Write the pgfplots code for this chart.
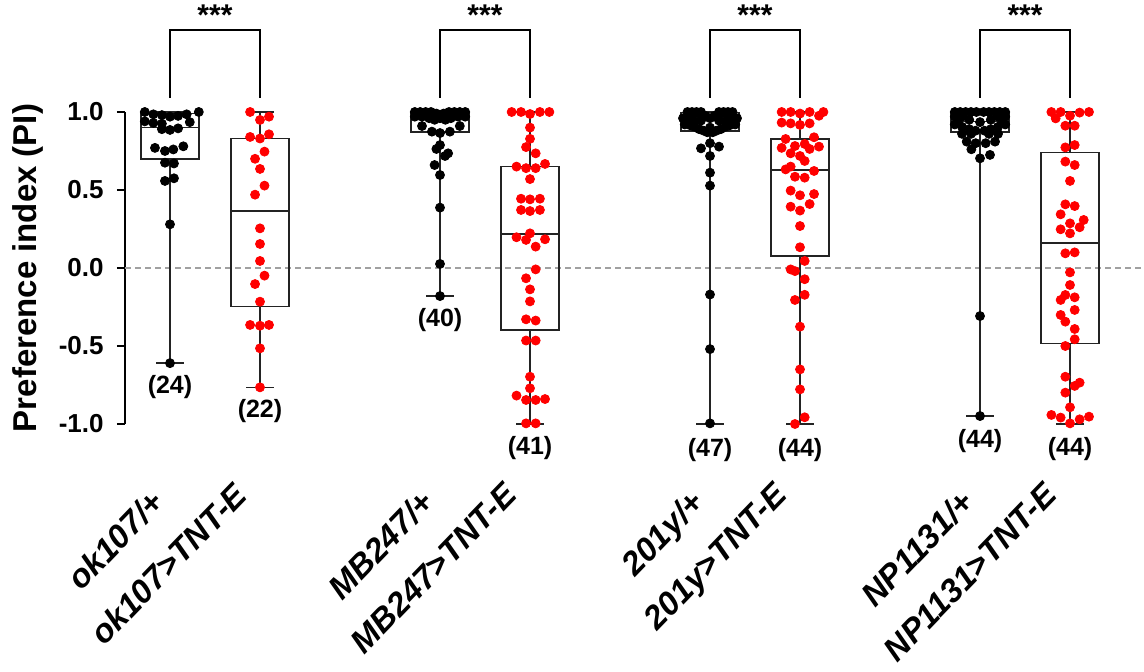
\documentclass[border=0pt]{standalone}
\usepackage{fontspec}
\setmainfont{Liberation Sans}
\usepackage{pgfplots}
\usepackage{pgfplotstable}
\pgfplotsset{compat=1.18}
\usepgfplotslibrary{statistics}
\definecolor{dotred}{RGB}{255,0,0}
\definecolor{boxgray}{RGB}{35,35,35}
\definecolor{zerogray}{RGB}{160,160,160}

% ok107/+ (pos 0)
\pgfplotstableread{
x y
-0.28 1.0
-0.185 0.985
-0.09 0.98
0 0.97
0.09 0.975
0.185 0.985
0.32 1.0
-0.28 0.94
-0.185 0.93
-0.09 0.925
0.22 0.935
-0.09 0.89
0 0.885
0.09 0.895
-0.167 0.77
-0.056 0.75
0.037 0.76
0.148 0.78
-0.056 0.675
0.044 0.67
-0.056 0.558
0.044 0.575
0 0.28
0 -0.61
}\gA
% ok107>TNT-E (pos 1)
\pgfplotstableread{
x y
0.89 1.0
1.0 0.949
1.10 0.97
0.89 0.84
1.0 0.83
1.10 0.857
1.05 0.746
0.945 0.70
1.0 0.635
1.05 0.528
0.945 0.47
1.0 0.254
1.0 0.154
1.0 0.045
1.05 -0.049
0.945 -0.103
1.0 -0.216
0.89 -0.365
1.0 -0.37
1.10 -0.365
1.0 -0.515
1.0 -0.765
}\gB
% MB247/+ (pos 3)
\pgfplotstableread{
x y
2.72 1.0
2.78 1.0
2.84 1.0
2.90 1.0
3.10 1.0
3.16 1.0
3.22 1.0
3.28 1.0
2.75 0.99
2.81 0.99
2.96 0.99
3.04 0.99
3.19 0.99
3.25 0.99
2.93 0.98
3.0 0.98
3.07 0.98
2.72 0.97
2.80 0.97
3.20 0.97
3.28 0.97
2.88 0.96
3.0 0.96
3.12 0.96
2.94 0.95
3.06 0.95
2.80 0.91
2.91 0.874
3.0 0.865
3.11 0.874
3.22 0.91
3.0 0.788
2.96 0.763
3.09 0.735
3.056 0.718
2.94 0.66
3.0 0.596
3.0 0.387
3.0 0.026
3.0 -0.18
}\gC
% MB247>TNT-E (pos 4)
\pgfplotstableread{
x y
3.796 1.0
3.90 1.0
4.0 0.987
4.11 1.0
4.215 1.0
4.0 0.90
4.0 0.828
3.956 0.775
4.063 0.735
3.85 0.65
3.956 0.64
4.063 0.64
4.167 0.667
4.0 0.57
3.90 0.444
4.0 0.44
4.11 0.444
3.90 0.372
4.0 0.365
4.11 0.372
3.85 0.197
4.0 0.222
3.956 0.18
4.063 0.137
4.167 0.184
4.063 -0.009
3.956 -0.066
4.0 -0.137
4.0 -0.214
3.956 -0.329
4.063 -0.337
3.956 -0.465
4.063 -0.465
4.0 -0.697
4.0 -0.771
3.85 -0.818
3.956 -0.846
4.063 -0.846
4.167 -0.84
3.956 -0.996
4.063 -0.996
}\gD
% 201y/+ (pos 6)
\pgfplotstableread{
x y
5.75 1.0
5.80 1.0
5.85 1.0
5.90 1.0
6.10 1.0
6.15 1.0
6.20 1.0
6.25 1.0
5.78 0.99
5.88 0.99
6.12 0.99
6.22 0.99
5.95 0.975
6.05 0.975
6.0 0.96
5.83 0.995
6.17 0.995
5.75 0.945
5.82 0.945
5.90 0.945
6.10 0.945
6.18 0.945
6.25 0.945
5.70 0.96
6.30 0.96
6.0 0.90
5.72 0.92
5.78 0.915
5.83 0.905
5.88 0.89
5.93 0.88
5.97 0.87
6.03 0.87
6.07 0.88
6.12 0.89
6.17 0.905
6.22 0.915
6.28 0.92
5.9 0.767
6.0 0.80
6.1 0.778
6.0 0.718
6.0 0.611
6.0 0.528
6.0 -0.17
6.0 -0.52
6.0 -0.996
}\gE
% 201y>TNT-E (pos 7)
\pgfplotstableread{
x y
6.796 1.0
6.896 1.0
7.0 0.99
7.107 1.0
7.211 0.976
7.26 1.0
6.796 0.932
6.896 0.927
7.0 0.917
7.107 0.927
6.84 0.827
7.156 0.838
6.796 0.77
6.944 0.782
7.052 0.795
7.107 0.763
7.211 0.778
6.896 0.735
7.0 0.718
7.052 0.686
6.84 0.632
6.896 0.65
7.156 0.622
6.944 0.585
7.052 0.579
6.896 0.496
7.0 0.466
7.156 0.474
6.896 0.393
7.0 0.368
7.107 0.41
7.0 0.269
7.0 0.133
7.052 0.045
6.896 -0.009
6.944 -0.02
7.052 -0.072
7.052 -0.172
6.944 -0.205
7.0 -0.376
7.0 -0.65
7.0 -0.778
7.052 -0.957
6.944 -1.0
}\gF
% NP1131/+ (pos 9)
\pgfplotstableread{
x y
8.72 1.0
8.78 1.0
8.84 1.0
8.90 1.0
8.96 1.0
9.04 1.0
9.10 1.0
9.16 1.0
9.22 1.0
9.28 1.0
8.75 0.985
8.81 0.985
9.19 0.985
9.25 0.985
8.72 0.97
8.80 0.97
9.20 0.97
9.28 0.97
8.88 0.95
9.12 0.95
9.0 0.935
8.75 0.94
9.25 0.94
8.72 0.92
9.28 0.92
8.80 0.905
9.20 0.905
8.88 0.89
9.12 0.89
8.95 0.88
9.05 0.88
8.80 0.86
8.90 0.86
9.10 0.86
9.20 0.86
8.852 0.81
8.952 0.80
9.063 0.80
9.167 0.81
8.904 0.761
9.111 0.725
9.0 0.703
9.0 -0.308
9.0 -0.949
}\gG
% NP1131>TNT-E (pos 10)
\pgfplotstableread{
x y
9.793 1.0
9.896 1.0
10.0 0.976
10.107 0.996
10.211 1.0
9.841 0.959
9.948 0.912
10.052 0.912
9.948 0.773
10.052 0.788
9.948 0.682
10.052 0.66
10.0 0.558
9.948 0.408
10.052 0.397
9.896 0.344
10.0 0.286
10.152 0.308
10.107 0.261
9.896 0.248
10.0 0.222
9.948 0.094
10.052 0.10
10.0 -0.028
10.0 -0.109
9.948 -0.173
10.052 -0.188
9.896 -0.205
10.052 -0.269
9.896 -0.301
9.948 -0.344
10.052 -0.391
10.052 -0.457
9.948 -0.5
9.948 -0.697
10.052 -0.756
10.107 -0.735
9.948 -0.799
10.0 -0.893
9.793 -0.942
9.896 -0.959
10.0 -0.996
10.107 -0.97
10.211 -0.953
}\gH

\newcommand{\low}[1]{\raisebox{5pt}[\height][\depth]{#1}\hspace{13pt}}

\begin{document}
\begin{tikzpicture}
\begin{axis}[
  at={(0,0)}, anchor=south west,
  scale only axis, width=495pt, height=156pt,
  xmin=-0.5, xmax=10.5, ymin=-1, ymax=1,
  clip=false,
  axis y line*=left, axis x line*=bottom,
  x axis line style={draw=none},
  y axis line style={line width=1.25pt, black},
  xtick={0,1,3,4,6,7,9,10},
  xticklabels={ok107/+, {\low{ok107>TNT-E}}, MB247/+, {\low{MB247>TNT-E}}, 201y/+, {\low{201y>TNT-E}}, NP1131/+, {\low{NP1131>TNT-E}}},
  major x tick style={draw=none},
  ytick={-1,-0.5,0,0.5,1},
  yticklabels={-1.0,-0.5,0.0,0.5,1.0},
  major y tick style={line width=1.25pt, black},
  major tick length=4pt, tick align=outside,
  yticklabel style={font=\fontsize{13}{15}\selectfont\bfseries, anchor=east, inner sep=0pt, xshift=-6.5pt},
  xticklabel style={font=\fontsize{16.5}{19}\selectfont\bfseries\itshape, inner sep=0pt, xshift=-10.5pt, yshift=-27.5pt, rotate=46, anchor=north east},
  ylabel={Preference index (PI)},
  ylabel style={font=\fontsize{16.5}{19}\selectfont\bfseries, at={(axis description cs:-0.098,0.5)}, anchor=center, rotate=0},
  boxplot/draw direction=y,
  mark size=2.25pt,
]
\addplot[zerogray, line width=0.6pt, dash pattern=on 3pt off 2pt] coordinates {(-0.5,0) (10.85,0)};

\addplot[boxplot prepared={draw position=0, lower whisker=-0.61, lower quartile=0.70, median=0.90, upper quartile=0.99, upper whisker=1.0, box extend=0.65, whisker extend=0.31}, draw=boxgray, line width=0.8pt, solid] coordinates {};
\addplot[boxplot prepared={draw position=1, lower whisker=-0.765, lower quartile=-0.248, median=0.365, upper quartile=0.83, upper whisker=1.0, box extend=0.65, whisker extend=0.31}, draw=boxgray, line width=0.8pt, solid] coordinates {};
\addplot[boxplot prepared={draw position=3, lower whisker=-0.18, lower quartile=0.87, median=0.96, upper quartile=0.99, upper whisker=1.0, box extend=0.65, whisker extend=0.31}, draw=boxgray, line width=0.8pt, solid] coordinates {};
\addplot[boxplot prepared={draw position=4, lower whisker=-1.0, lower quartile=-0.397, median=0.218, upper quartile=0.65, upper whisker=1.0, box extend=0.65, whisker extend=0.31}, draw=boxgray, line width=0.8pt, solid] coordinates {};
\addplot[boxplot prepared={draw position=6, lower whisker=-1.0, lower quartile=0.878, median=0.95, upper quartile=0.996, upper whisker=1.0, box extend=0.65, whisker extend=0.31}, draw=boxgray, line width=0.8pt, solid] coordinates {};
\addplot[boxplot prepared={draw position=7, lower whisker=-1.0, lower quartile=0.077, median=0.628, upper quartile=0.827, upper whisker=1.0, box extend=0.65, whisker extend=0.31}, draw=boxgray, line width=0.8pt, solid] coordinates {};
\addplot[boxplot prepared={draw position=9, lower whisker=-0.95, lower quartile=0.87, median=0.94, upper quartile=0.995, upper whisker=1.0, box extend=0.65, whisker extend=0.31}, draw=boxgray, line width=0.8pt, solid] coordinates {};
\addplot[boxplot prepared={draw position=10, lower whisker=-1.0, lower quartile=-0.483, median=0.162, upper quartile=0.741, upper whisker=1.0, box extend=0.65, whisker extend=0.31}, draw=boxgray, line width=0.8pt, solid] coordinates {};

\addplot[only marks, mark=*, black, mark options={draw=black, fill=black}] table[x=x, y=y] {\gA};
\addplot[only marks, mark=*, dotred, mark options={draw=dotred, fill=dotred}] table[x=x, y=y] {\gB};
\addplot[only marks, mark=*, black, mark options={draw=black, fill=black}] table[x=x, y=y] {\gC};
\addplot[only marks, mark=*, dotred, mark options={draw=dotred, fill=dotred}] table[x=x, y=y] {\gD};
\addplot[only marks, mark=*, black, mark options={draw=black, fill=black}] table[x=x, y=y] {\gE};
\addplot[only marks, mark=*, dotred, mark options={draw=dotred, fill=dotred}] table[x=x, y=y] {\gF};
\addplot[only marks, mark=*, black, mark options={draw=black, fill=black}] table[x=x, y=y] {\gG};
\addplot[only marks, mark=*, dotred, mark options={draw=dotred, fill=dotred}] table[x=x, y=y] {\gH};

\addplot[black, line width=0.9pt] coordinates {(0,1.09) (0,1.526) (1,1.526) (1,1.09)};
\addplot[black, line width=0.9pt] coordinates {(3,1.09) (3,1.526) (4,1.526) (4,1.09)};
\addplot[black, line width=0.9pt] coordinates {(6,1.09) (6,1.526) (7,1.526) (7,1.09)};
\addplot[black, line width=0.9pt] coordinates {(9,1.09) (9,1.526) (10,1.526) (10,1.09)};

\node[font=\fontsize{15}{18}\selectfont\bfseries] at (axis cs:0.5,1.62) {***};
\node[font=\fontsize{15}{18}\selectfont\bfseries] at (axis cs:3.5,1.62) {***};
\node[font=\fontsize{15}{18}\selectfont\bfseries] at (axis cs:6.5,1.62) {***};
\node[font=\fontsize{15}{18}\selectfont\bfseries] at (axis cs:9.5,1.62) {***};

\node[font=\fontsize{12.5}{15}\selectfont\bfseries] at (axis cs:0,-0.76) {(24)};
\node[font=\fontsize{12.5}{15}\selectfont\bfseries] at (axis cs:1,-0.92) {(22)};
\node[font=\fontsize{12.5}{15}\selectfont\bfseries] at (axis cs:3,-0.333) {(40)};
\node[font=\fontsize{12.5}{15}\selectfont\bfseries] at (axis cs:4,-1.154) {(41)};
\node[font=\fontsize{12.5}{15}\selectfont\bfseries] at (axis cs:6,-1.167) {(47)};
\node[font=\fontsize{12.5}{15}\selectfont\bfseries] at (axis cs:7,-1.167) {(44)};
\node[font=\fontsize{12.5}{15}\selectfont\bfseries] at (axis cs:9,-1.11) {(44)};
\node[font=\fontsize{12.5}{15}\selectfont\bfseries] at (axis cs:10,-1.16) {(44)};
\end{axis}
\pgfresetboundingbox
\path[use as bounding box] (-62.5pt,-124pt) rectangle (509.5pt,212pt);
\end{tikzpicture}
\end{document}
